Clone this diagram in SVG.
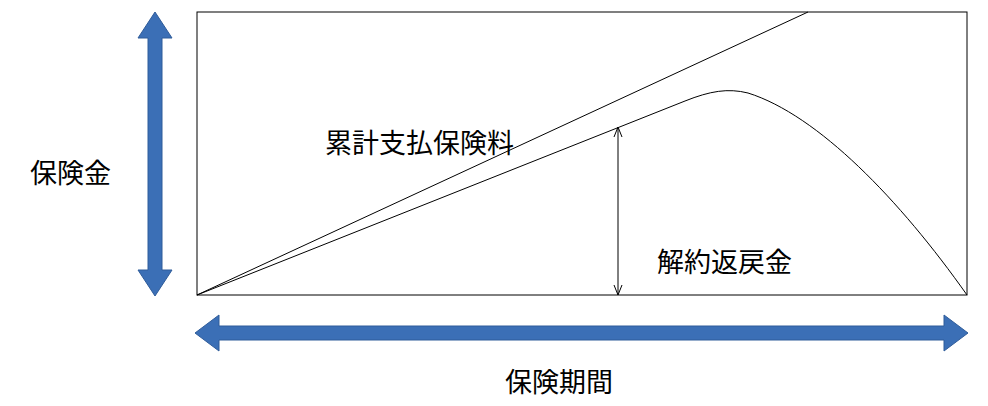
<svg xmlns="http://www.w3.org/2000/svg" width="988" height="406" viewBox="0 0 988 406">
<style>
.t{font-family:"Noto Sans CJK JP","Noto Sans CJK SC",sans-serif;font-size:27px;fill:#000}
.l{fill:none;stroke:#000;stroke-width:1}
.big{fill:#3B6FB6;stroke:#2F5C9A;stroke-width:1}
</style>
<defs>
<marker id="ah" viewBox="0 0 10 10" refX="10" refY="5" markerWidth="10" markerHeight="10" orient="auto-start-reverse" markerUnits="userSpaceOnUse">
<path d="M0,1 L10,5 L0,9" fill="none" stroke="#000"/>
</marker>
</defs>
<g id="frame"><rect x="197" y="12" width="770" height="283" class="l"/></g>
<g id="connectors">
<line x1="197" y1="295" x2="808" y2="12" class="l"/>
<path d="M197,295 L685,101 C710,91 728,88 748,93 C818,115 900,200 967,295" class="l"/>
<line x1="618" y1="127" x2="618" y2="295" class="l" marker-start="url(#ah)" marker-end="url(#ah)"/>
</g>
<g id="vaxis"><polygon class="big" points="155,12 172,38 162,38 162,270 172,270 155,296 138,270 148,270 148,38 138,38"/></g>
<g id="haxis"><polygon class="big" points="195,333 219,315 219,326 944,326 944,315 968,333 944,351 944,340 219,340 219,351"/></g>
<g id="label1"><text class="t" x="325" y="153">累計支払保険料</text></g>
<g id="label2"><text class="t" x="657" y="272">解約返戻金</text></g>
<g id="label3"><text class="t" x="30" y="183">保険金</text></g>
<g id="label4"><text class="t" x="505" y="392">保険期間</text></g>
</svg>
